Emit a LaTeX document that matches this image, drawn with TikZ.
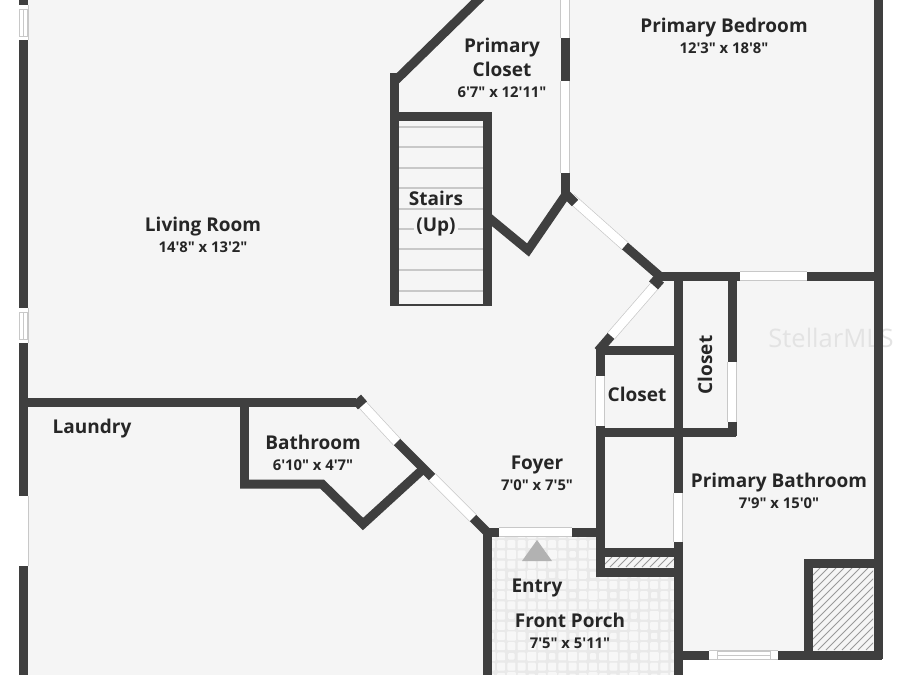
\documentclass[tikz,border=0pt]{standalone}
\usepackage{fontspec}
\usetikzlibrary{patterns}
\newfontfamily\lblfont{Open Sans}[BoldFont={* Bold}]
\definecolor{wallc}{HTML}{3F3F3F}
\definecolor{floorc}{HTML}{F5F5F5}
\definecolor{thin}{HTML}{C8C8C8}
\definecolor{inkc}{HTML}{262626}
\tikzset{
  wall/.style={draw=wallc,line width=9pt,line cap=butt,line join=miter},
  openw/.style={draw=thin,line width=10pt,line cap=butt,postaction={draw=white,line width=8.6pt}},
  mullion/.style={draw=thin,line width=.8pt},
  stairline/.style={draw=thin,line width=1.2pt},
  hatchline/.style={draw=gray!80,line width=.8pt},
  roomname/.style={font=\lblfont\fontsize{19}{21}\selectfont\bfseries,text=inkc,inner sep=0pt,align=center,anchor=base},
  roomsize/.style={font=\lblfont\fontsize{14.8}{16}\selectfont\bfseries,text=inkc,inner sep=0pt,anchor=base},
  tile/.style={fill=white!97!black,rounded corners=1pt}
}
\begin{document}
\begin{tikzpicture}[x=1pt,y=-1pt]
\useasboundingbox (0,0) rectangle (900,675);
\fill[white] (0,0) rectangle (900,675);
% floor
\fill[floorc] (23,0) -- (878,0) -- (878,655) -- (678,655) -- (678,675) -- (23,675) -- cycle;
\node[font=\lblfont\fontsize{25.5}{28}\selectfont,text=gray!22,inner sep=0pt] (wm) at (831,338) {StellarMLS};
% porch tiles
\begin{scope}
\clip (491,536) -- (596,536) -- (596,576) -- (674,576) -- (674,675) -- (491,675) -- cycle;
\fill[gray!17] (491,536) rectangle (674,675);
\foreach \i in {0,...,18}{
  \foreach \j in {0,...,14}{
    \pgfmathsetmacro{\px}{491+\i*10.2}
    \pgfmathsetmacro{\py}{534+\j*10.2}
    \pgfmathtruncatemacro{\k}{mod(\i*3+\j*7+\i*\j,4)}
    \ifnum\k=0
      \fill[tile] (\px-4.6,\py-4.6) rectangle (\px+4.6,\py+4.6);
    \else\ifnum\k=2
      \fill[tile] (\px-3.2,\py-3.2) rectangle (\px+3.2,\py+3.2);
    \else
      \fill[tile] (\px-4,\py-4) rectangle (\px+4,\py+4);
    \fi\fi
  }
}
\end{scope}
\fill[gray!60] (537,540) -- (552,561) -- (522,561) -- cycle;
% stairs
\fill[floorc] (398,120) rectangle (483,304);
\foreach \yy in {127,147,168,188,209,229,249,270,291}{\draw[stairline] (398,\yy) -- (483,\yy);}
% hatch areas
\begin{scope}
\clip (813,568) rectangle (873,650);
\fill[floorc] (813,568) rectangle (873,650);
\foreach \q in {0,8,...,152}{\draw[hatchline] (730+\q,650) -- (730+\q+82,568);}
\end{scope}
\begin{scope}
\clip (604,557) rectangle (674,567);
\fill[floorc] (604,557) rectangle (674,567);
\foreach \q in {0,8,...,88}{\draw[hatchline] (594+\q,567) -- (594+\q+10,557);}
\end{scope}
% white openings
\draw[openw] (565,-2) -- (565,38);
\draw[openw] (565,81) -- (565,173);
\draw[openw] (571,198) -- (625,246);
\draw[openw] (657,283) -- (611,336);
\draw[openw] (740,276) -- (807,276);
\draw[openw] (732,362) -- (732,422);
\draw[openw] (600,376) -- (600,426);
\draw[openw] (678,493) -- (678,542);
\draw[openw] (499,532) -- (572,532);
\draw[openw] (360,402) -- (397,442);
\draw[openw] (432,477) -- (473,518);
\draw[openw] (23.5,496) -- (23.5,566);
% sliding windows
\foreach \a/\b in {5/40,308/343}{
  \draw[openw] (23.5,\a) -- (23.5,\b);
  \draw[mullion] (19.5,\a+4) rectangle (27.5,\b-4);
  \draw[mullion] (23.5,\a+4) -- (23.5,\b-4);
}
\draw[openw] (709,655) -- (778,655);
\draw[mullion] (717,651) rectangle (770,659);
\draw[mullion] (717,655) -- (770,655);
% walls
\draw[wall] (23.5,-2) -- (23.5,5);
\draw[wall] (23.5,40) -- (23.5,308);
\draw[wall] (23.5,343) -- (23.5,496);
\draw[wall] (23.5,566) -- (23.5,677);
\draw[wall] (878,-2) -- (878,659);
\draw[wall] (565,38) -- (565,81);
\draw[wall] (565,173) -- (565,197);
\draw[wall] (394,73) -- (394,306);
\draw[wall] (396,80) -- (482,-4);
\draw[wall] (390,116) -- (487,116) -- (487,306);
\draw[draw=wallc,line width=2.5pt] (390,305) -- (491,305);
\draw[wall,miter limit=10] (488,217) -- (528,250) -- (565,196);
\draw[wall] (625,246) -- (663,279);
\draw[wall] (566,194) -- (575,203);
\draw[wall] (598,351) -- (611,336);
\draw[wall] (652,278) -- (661,286);
\draw[wall] (659,276) -- (740,276);
\draw[wall] (807,276) -- (882,276);
\draw[wall] (678,276) -- (678,493);
\draw[wall] (678,542) -- (678,677);
\draw[wall] (732,272) -- (732,362);
\draw[wall] (732,422) -- (732,436);
\draw[wall] (600,432) -- (736,432);
\draw[wall] (596,350) -- (678,350);
\draw[wall] (600,349) -- (600,376);
\draw[wall] (600,426) -- (600,576);
\draw[wall] (600,552) -- (678,552);
\draw[wall] (596,572) -- (678,572);
\draw[wall] (487,532) -- (499,532);
\draw[wall] (572,532) -- (600,532);
\draw[wall] (487,528) -- (487,677);
\draw[wall] (678,655) -- (709,655);
\draw[wall] (778,655) -- (882,655);
\draw[wall] (808,655) -- (808,559);
\draw[wall] (804,563) -- (878,563);
\draw[wall] (19,402) -- (356,402);
\draw[wall] (355,406) -- (364,398);
\draw[wall] (397,442) -- (432,477);
\draw[wall] (473,518) -- (489,534);
\draw[wall] (244,402) -- (244,488);
\draw[wall,miter limit=10] (240,484) -- (322,484) -- (363,524) -- (421,471);
% labels
\node[roomname] (bedA) at (724,32) {Primary Bedroom};
\node[roomsize] (bedB) at (724,53) {12'3" x 18'8"};
\node[roomname] (clA) at (502,52) {Primary};
\node[roomname] (clB) at (502,76) {Closet};
\node[roomsize] (clC) at (502,97) {6'7" x 12'11"};
\node[roomname] (stA) at (436,205) {Stairs};
\begin{scope}
\fill[floorc] (414,211) rectangle (458,236);
\end{scope}
\node[roomname] (stB) at (436,231) {(Up)};
\node[roomname] (livA) at (203,231) {Living Room};
\node[roomsize] (livB) at (203,252) {14'8" x 13'2"};
\node[roomname,rotate=90] (cl2) at (712,365) {Closet};
\node[roomname] (cl3) at (637,401) {Closet};
\node[roomname] (lau) at (92,433) {Laundry};
\node[roomname] (baA) at (313,449) {Bathroom};
\node[roomsize] (baB) at (313,470) {6'10" x 4'7"};
\node[roomname] (foA) at (537,469) {Foyer};
\node[roomsize] (foB) at (537,490) {7'0" x 7'5"};
\node[roomname] (pbA) at (779,487) {Primary Bathroom};
\node[roomsize] (pbB) at (779,508) {7'9" x 15'0"};
\node[roomname] (ent) at (537,592) {Entry};
\node[roomname] (fpA) at (570,627) {Front Porch};
\node[roomsize] (fpB) at (570,648) {7'5" x 5'11"};
\end{tikzpicture}
\end{document}
